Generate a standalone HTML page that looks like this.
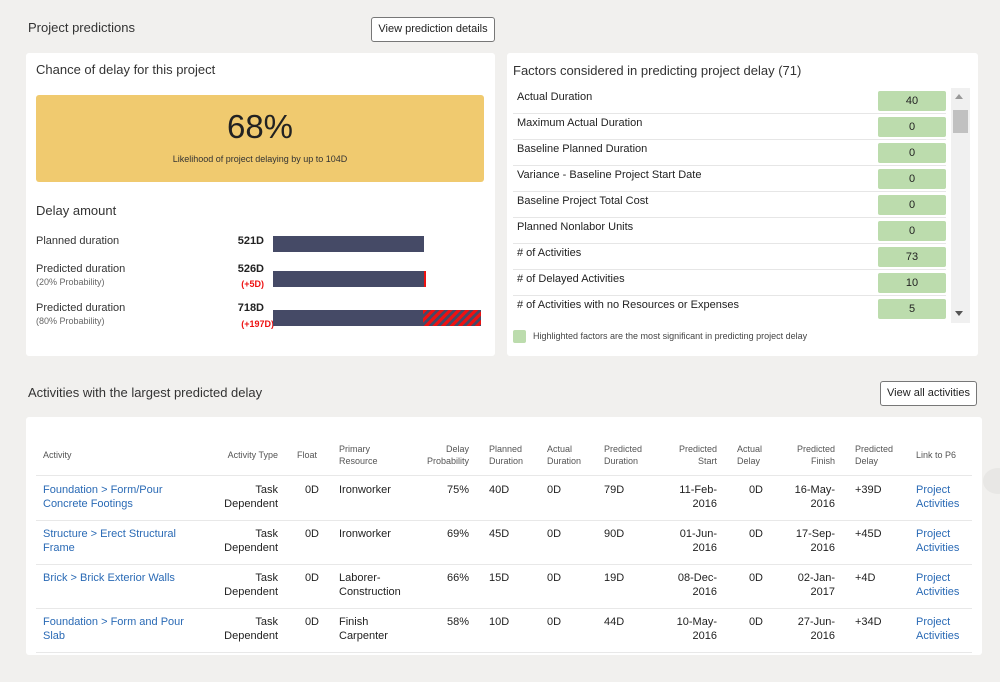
<!DOCTYPE html>
<html><head><meta charset="utf-8"><style>
*{margin:0;padding:0;box-sizing:border-box}
body{width:1000px;height:682px;background:#f1f0ee;font-family:"Liberation Sans",sans-serif;color:#333;position:relative;overflow:hidden}
.a{position:absolute;white-space:nowrap}
.p{position:absolute;background:#fff;border-radius:3px}
.btn{position:absolute;border:1px solid #777;border-radius:3px;background:#fff;font-size:11px;color:#222;text-align:center;line-height:22px}
.fr{position:absolute;left:513px;width:433px;height:26px;border-bottom:1px solid #e6e6e6;font-size:11px;color:#222}
.fr span{position:absolute;left:4px;top:3px}
.fr b{position:absolute;left:365px;top:3px;width:68px;height:20px;background:#bcdcad;border-radius:2px;font-weight:normal;text-align:center;line-height:20px}
.h{position:absolute;top:442px;height:26px;font-size:9px;color:#555;line-height:12px;display:flex;align-items:center}
.c{position:absolute;font-size:11px;line-height:14px;color:#222}
.l{color:#2a6ab5}
.r{text-align:right}
.ln{position:absolute;left:36px;width:936px;height:1px;background:#e8e8e8}
</style></head><body>
<div class="a" style="left:28px;top:20px;font-size:13px;color:#333">Project predictions</div>
<div class="btn" style="left:371px;top:17px;width:124px;height:25px">View prediction details</div>

<div class="p" style="left:26px;top:53px;width:469px;height:303px"></div>
<div class="a" style="left:36px;top:62px;font-size:13px">Chance of delay for this project</div>
<div class="p" style="left:36px;top:95px;width:448px;height:87px;background:#f0ca6f"></div>
<div class="a" style="left:36px;top:108px;width:448px;text-align:center;font-size:33px;color:#222">68%</div>
<div class="a" style="left:36px;top:154px;width:448px;text-align:center;font-size:9px;color:#333">Likelihood of project delaying by up to 104D</div>
<div class="a" style="left:36px;top:203px;font-size:13px">Delay amount</div>
<div class="a" style="left:36px;top:235px;font-size:11px">Planned duration</div>
<div class="a" style="left:36px;top:263px;font-size:11px">Predicted duration</div>
<div class="a" style="left:36px;top:277px;font-size:9px;color:#666">(20% Probability)</div>
<div class="a" style="left:36px;top:302px;font-size:11px">Predicted duration</div>
<div class="a" style="left:36px;top:316px;font-size:9px;color:#666">(80% Probability)</div>
<div class="a" style="left:200px;width:64px;text-align:right;top:235px;font-size:11px;font-weight:bold;color:#222">521D</div>
<div class="a" style="left:200px;width:64px;text-align:right;top:263px;font-size:11px;font-weight:bold;color:#222">526D</div>
<div class="a" style="left:200px;width:64px;text-align:right;top:279px;font-size:9px;font-weight:bold;color:#e11">(+5D)</div>
<div class="a" style="left:200px;width:64px;text-align:right;top:302px;font-size:11px;font-weight:bold;color:#222">718D</div>
<div class="a" style="left:210px;width:64px;text-align:right;top:319px;font-size:9px;font-weight:bold;color:#e11">(+197D)</div>
<div class="a" style="left:273px;top:236px;width:151px;height:16px;background:#454a66"></div>
<div class="a" style="left:273px;top:271px;width:150px;height:16px;background:#454a66;border-right:2px solid #e11;width:153px"></div>
<div class="a" style="left:273px;top:310px;width:150px;height:16px;background:#454a66"></div>
<div class="a" style="left:423px;top:310px;width:58px;height:16px;background:repeating-linear-gradient(135deg,#e11 0 3px,#454a66 3px 6px)"></div>

<div class="p" style="left:507px;top:53px;width:471px;height:303px"></div>
<div class="a" style="left:513px;top:63px;font-size:13px">Factors considered in predicting project delay (71)</div>
<div class="fr" style="top:88px"><span>Actual Duration</span><b>40</b></div>
<div class="fr" style="top:114px"><span>Maximum Actual Duration</span><b>0</b></div>
<div class="fr" style="top:140px"><span>Baseline Planned Duration</span><b>0</b></div>
<div class="fr" style="top:166px"><span>Variance - Baseline Project Start Date</span><b>0</b></div>
<div class="fr" style="top:192px"><span>Baseline Project Total Cost</span><b>0</b></div>
<div class="fr" style="top:218px"><span>Planned Nonlabor Units</span><b>0</b></div>
<div class="fr" style="top:244px"><span># of Activities</span><b>73</b></div>
<div class="fr" style="top:270px"><span># of Delayed Activities</span><b>10</b></div>
<div class="fr" style="top:296px;border:none"><span># of Activities with no Resources or Expenses</span><b>5</b></div>
<div class="a" style="left:951px;top:88px;width:19px;height:235px;background:#f0f0f0"></div>
<div class="a" style="left:953px;top:110px;width:15px;height:23px;background:#c1c1c1"></div>
<div class="a" style="left:955px;top:94px;width:0;height:0;border-left:4px solid transparent;border-right:4px solid transparent;border-bottom:5px solid #999"></div>
<div class="a" style="left:955px;top:311px;width:0;height:0;border-left:4px solid transparent;border-right:4px solid transparent;border-top:5px solid #555"></div>
<div class="a" style="left:513px;top:330px;width:13px;height:13px;background:#bcdcad;border-radius:2px"></div>
<div class="a" style="left:533px;top:331px;font-size:9px;color:#444">Highlighted factors are the most significant in predicting project delay</div>

<div class="a" style="left:28px;top:385px;font-size:13px">Activities with the largest predicted delay</div>
<div class="btn" style="left:880px;top:381px;width:97px;height:25px">View all activities</div>
<div class="p" style="left:26px;top:417px;width:956px;height:238px"></div>
<div class="a" style="left:983px;top:468px;width:30px;height:26px;border-radius:50%;background:#e8e7e5"></div>

<div class="h" style="left:43px">Activity</div>
<div class="h r" style="left:198px;width:80px;justify-content:flex-end">Activity Type</div>
<div class="h" style="left:297px">Float</div>
<div class="h" style="left:339px">Primary<br>Resource</div>
<div class="h r" style="left:409px;width:60px;justify-content:flex-end">Delay<br>Probability</div>
<div class="h" style="left:489px">Planned<br>Duration</div>
<div class="h" style="left:547px">Actual<br>Duration</div>
<div class="h" style="left:604px">Predicted<br>Duration</div>
<div class="h r" style="left:657px;width:60px;justify-content:flex-end">Predicted<br>Start</div>
<div class="h" style="left:737px">Actual<br>Delay</div>
<div class="h r" style="left:775px;width:60px;justify-content:flex-end">Predicted<br>Finish</div>
<div class="h" style="left:855px">Predicted<br>Delay</div>
<div class="h" style="left:916px">Link to P6</div>
<div class="ln" style="top:475px"></div>
<div class="ln" style="top:520px"></div>
<div class="ln" style="top:564px"></div>
<div class="ln" style="top:608px"></div>
<div class="ln" style="top:652px"></div>

<!-- row 1 -->
<div class="c l" style="left:43px;top:483px">Foundation &gt; Form/Pour<br>Concrete Footings</div>
<div class="c r" style="left:178px;width:100px;top:483px">Task<br>Dependent</div>
<div class="c r" style="left:290px;width:29px;top:483px">0D</div>
<div class="c" style="left:339px;top:483px">Ironworker</div>
<div class="c r" style="left:419px;width:50px;top:483px">75%</div>
<div class="c" style="left:489px;top:483px">40D</div>
<div class="c" style="left:547px;top:483px">0D</div>
<div class="c" style="left:604px;top:483px">79D</div>
<div class="c r" style="left:647px;width:70px;top:483px">11-Feb-<br>2016</div>
<div class="c r" style="left:733px;width:30px;top:483px">0D</div>
<div class="c r" style="left:765px;width:70px;top:483px">16-May-<br>2016</div>
<div class="c" style="left:855px;top:483px">+39D</div>
<div class="c l" style="left:916px;top:483px">Project<br>Activities</div>
<!-- row 2 -->
<div class="c l" style="left:43px;top:527px">Structure &gt; Erect Structural<br>Frame</div>
<div class="c r" style="left:178px;width:100px;top:527px">Task<br>Dependent</div>
<div class="c r" style="left:290px;width:29px;top:527px">0D</div>
<div class="c" style="left:339px;top:527px">Ironworker</div>
<div class="c r" style="left:419px;width:50px;top:527px">69%</div>
<div class="c" style="left:489px;top:527px">45D</div>
<div class="c" style="left:547px;top:527px">0D</div>
<div class="c" style="left:604px;top:527px">90D</div>
<div class="c r" style="left:647px;width:70px;top:527px">01-Jun-<br>2016</div>
<div class="c r" style="left:733px;width:30px;top:527px">0D</div>
<div class="c r" style="left:765px;width:70px;top:527px">17-Sep-<br>2016</div>
<div class="c" style="left:855px;top:527px">+45D</div>
<div class="c l" style="left:916px;top:527px">Project<br>Activities</div>
<!-- row 3 -->
<div class="c l" style="left:43px;top:571px">Brick &gt; Brick Exterior Walls</div>
<div class="c r" style="left:178px;width:100px;top:571px">Task<br>Dependent</div>
<div class="c r" style="left:290px;width:29px;top:571px">0D</div>
<div class="c" style="left:339px;top:571px">Laborer-<br>Construction</div>
<div class="c r" style="left:419px;width:50px;top:571px">66%</div>
<div class="c" style="left:489px;top:571px">15D</div>
<div class="c" style="left:547px;top:571px">0D</div>
<div class="c" style="left:604px;top:571px">19D</div>
<div class="c r" style="left:647px;width:70px;top:571px">08-Dec-<br>2016</div>
<div class="c r" style="left:733px;width:30px;top:571px">0D</div>
<div class="c r" style="left:765px;width:70px;top:571px">02-Jan-<br>2017</div>
<div class="c" style="left:855px;top:571px">+4D</div>
<div class="c l" style="left:916px;top:571px">Project<br>Activities</div>
<!-- row 4 -->
<div class="c l" style="left:43px;top:615px">Foundation &gt; Form and Pour<br>Slab</div>
<div class="c r" style="left:178px;width:100px;top:615px">Task<br>Dependent</div>
<div class="c r" style="left:290px;width:29px;top:615px">0D</div>
<div class="c" style="left:339px;top:615px">Finish<br>Carpenter</div>
<div class="c r" style="left:419px;width:50px;top:615px">58%</div>
<div class="c" style="left:489px;top:615px">10D</div>
<div class="c" style="left:547px;top:615px">0D</div>
<div class="c" style="left:604px;top:615px">44D</div>
<div class="c r" style="left:647px;width:70px;top:615px">10-May-<br>2016</div>
<div class="c r" style="left:733px;width:30px;top:615px">0D</div>
<div class="c r" style="left:765px;width:70px;top:615px">27-Jun-<br>2016</div>
<div class="c" style="left:855px;top:615px">+34D</div>
<div class="c l" style="left:916px;top:615px">Project<br>Activities</div>
</body></html>
